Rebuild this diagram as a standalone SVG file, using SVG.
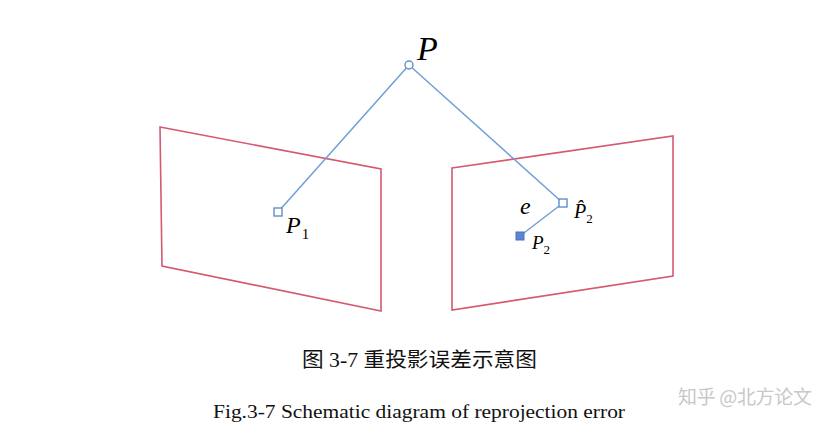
<svg xmlns="http://www.w3.org/2000/svg" width="833" height="430" viewBox="0 0 833 430">
<style>
.plane{fill:none;stroke:#d45a72;stroke-width:1.6}
.ray{fill:none;stroke:#6f9fd6;stroke-width:1.5}
.pt{fill:#fff;stroke:#5f8fc8;stroke-width:1.4}
.lbl{font-family:"Liberation Serif",serif;font-style:italic;fill:#000}
.sub{font-style:normal}
.cap{font-family:"Liberation Serif","Noto Sans CJK SC",serif;fill:#111}
</style>
<rect width="833" height="430" fill="#fff"/>
<g id="plane-left"><polygon class="plane" points="160,127 381,169 381,311 162,266"/></g>
<g id="plane-right"><polygon class="plane" points="452,168 673,136 673,276 452,310"/></g>
<g id="connectors">
<line class="ray" x1="409" y1="65" x2="278" y2="212"/>
<line class="ray" x1="409" y1="65" x2="563" y2="203"/>
<line class="ray" x1="563" y1="203" x2="520" y2="236"/>
</g>
<g id="node-P"><circle class="pt" cx="409" cy="65" r="4"/><text class="lbl" x="417" y="60" font-size="34">P</text></g>
<g id="node-P1"><rect class="pt" x="274" y="208" width="8" height="8"/><text class="lbl" x="286" y="233" font-size="24">P<tspan class="sub" dx="1" dy="6" font-size="15">1</tspan></text></g>
<g id="node-P2hat"><rect class="pt" x="559" y="199" width="8" height="8"/><text class="lbl" x="574" y="218" font-size="20">P̂<tspan class="sub" dy="5" font-size="13">2</tspan></text></g>
<g id="node-P2"><rect x="516" y="232" width="8" height="8" fill="#5b86d0" stroke="#4a72b8" stroke-width="1"/><text class="lbl" x="532" y="249" font-size="19">P<tspan class="sub" dy="5" font-size="13">2</tspan></text></g>
<g id="label-e"><text class="lbl" x="520" y="214" font-size="24">e</text></g>
<text class="cap" x="302" y="367" font-size="20.5" textLength="235" lengthAdjust="spacingAndGlyphs">图 3-7  重投影误差示意图</text>
<text class="cap" x="213" y="418" font-size="19" textLength="412" lengthAdjust="spacingAndGlyphs">Fig.3-7 Schematic diagram of reprojection error</text>
<text x="678" y="404" font-family="'Noto Sans CJK SC',sans-serif" font-size="19" fill="#c8c8c8" textLength="134">知乎 @北方论文</text>
</svg>
